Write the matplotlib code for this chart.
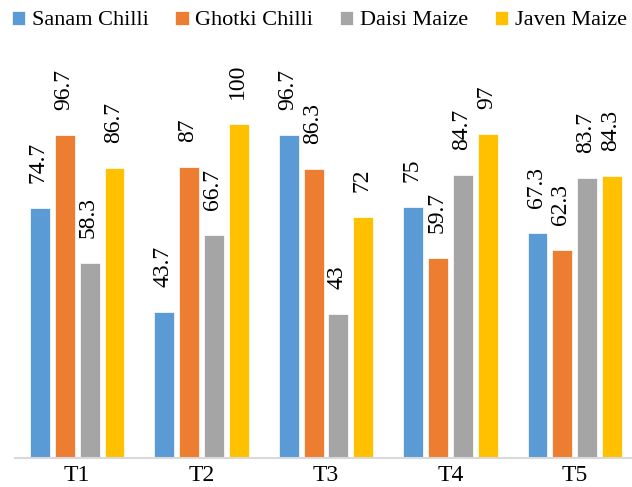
import numpy as np
import matplotlib.pyplot as plt

plt.rcParams['font.family'] = ['Liberation Serif', 'DejaVu Serif']

categories = ["T1", "T2", "T3", "T4", "T5"]
series = ["Sanam Chilli", "Ghotki Chilli", "Daisi Maize", "Javen Maize"]
sanam_chilli = [74.7, 43.7, 96.7, 75, 67.3]
ghotki_chilli = [96.7, 87, 86.3, 59.7, 62.3]
daisi_maize = [58.3, 66.7, 43, 84.7, 83.7]
javen_maize = [86.7, 100, 72, 97, 84.3]
labels = [
    ["74.7", "43.7", "96.7", "75", "67.3"],
    ["96.7", "87", "86.3", "59.7", "62.3"],
    ["58.3", "66.7", "43", "84.7", "83.7"],
    ["86.7", "100", "72", "97", "84.3"],
]
colors = ["#5B9BD5", "#ED7D31", "#A5A5A5", "#FFC000"]

fig = plt.figure(figsize=(6.32, 4.87), dpi=100)
ax = fig.add_axes([15 / 632, 29 / 487, 622 / 632, 418 / 487])

x = np.arange(len(categories))
width = 0.16
offsets = [-0.3, -0.1, 0.1, 0.3]
values = [sanam_chilli, ghotki_chilli, daisi_maize, javen_maize]

for i, (name, vals) in enumerate(zip(series, values)):
    bars = ax.bar(x + offsets[i], vals, width, color=colors[i], label=name,
                  edgecolor="white", linewidth=0.5)
    for b, lab in zip(bars, labels[i]):
        ax.annotate(lab, (b.get_x() + b.get_width() / 2, b.get_height()),
                    xytext=(-1, 18), textcoords="offset points",
                    rotation=90, ha="center", va="bottom", fontsize=17,
                    color="black")

ax.set_xlim(-0.5, 4.5)
ax.set_ylim(0, 125)
ax.set_xticks(x)
ax.set_xticklabels(categories, fontsize=17)
ax.tick_params(axis="x", length=0, pad=5)
ax.set_yticks([])
for s in ["top", "right", "left"]:
    ax.spines[s].set_visible(False)
ax.spines["bottom"].set_color("#D9D9D9")
ax.spines["bottom"].set_linewidth(1.5)

fig.legend(loc="center", bbox_to_anchor=(0.505, 0.958), ncol=4, frameon=False,
           fontsize=16, handlelength=0.6, handleheight=0.6, handletextpad=0.3,
           columnspacing=1.2)

fig.savefig("out.png", dpi=100)
